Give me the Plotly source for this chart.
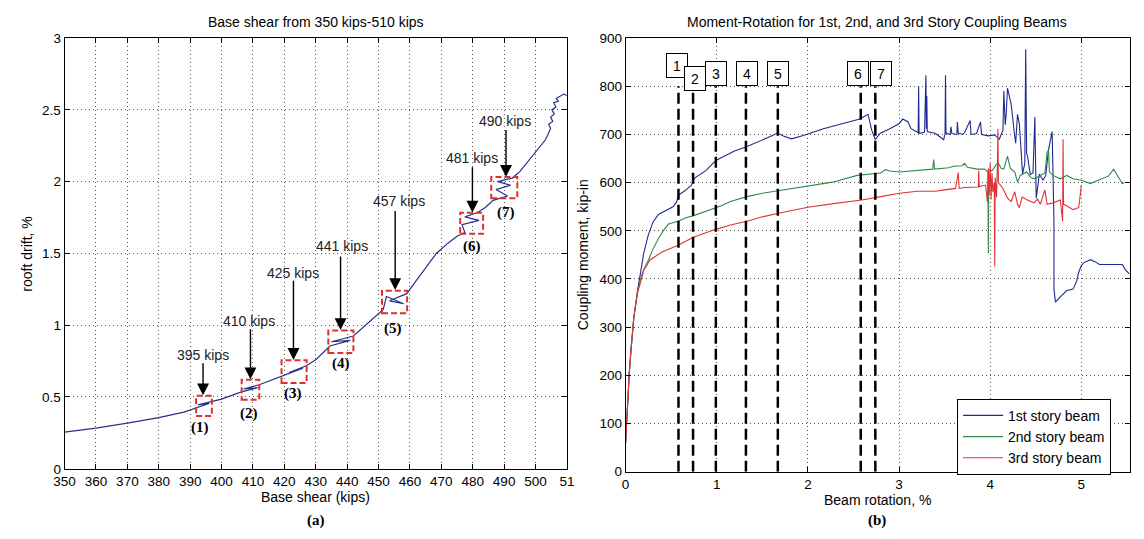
import plotly.graph_objects as go

# ---------------- Left panel data: roof drift vs base shear ----------------
shear = [350, 360, 370, 380, 388, 391.5, 396, 392.5, 397, 400, 405,
         406.7, 411.5, 407, 412, 415, 419.8, 425.9, 421.5, 427, 430,
         434.5, 441, 435, 442, 446, 451.5, 452.5, 458, 453.5, 459,
         462, 466, 468.4, 472, 475, 477.5, 476.6, 482, 477.5, 481.5,
         484, 486.5, 491.1, 487.4, 492.1, 488, 492.6, 495, 498, 500,
         502, 503.1, 504, 504.8, 504.2, 505.5, 504.8, 506, 505.2, 506.5,
         505.8, 507.2, 506.6, 508, 509, 510]
drift = [0.255, 0.283, 0.318, 0.356, 0.395, 0.42, 0.455, 0.445, 0.468, 0.485, 0.525,
         0.538, 0.565, 0.556, 0.585, 0.61, 0.653, 0.701, 0.671, 0.718, 0.76,
         0.855, 0.895, 0.885, 0.925, 1.0, 1.11, 1.2, 1.15, 1.17, 1.22,
         1.31, 1.43, 1.5, 1.57, 1.62, 1.645, 1.70, 1.73, 1.755, 1.785,
         1.82, 1.87, 1.90, 1.945, 1.975, 2.0, 2.025, 2.07, 2.15, 2.20,
         2.26, 2.29, 2.33, 2.37, 2.40, 2.42, 2.45, 2.47, 2.50, 2.52,
         2.55, 2.56, 2.58, 2.60, 2.61, 2.60]

box_shear0 = [391.9, 406.4, 419.1, 434.0, 451.1, 476.0, 485.9]
box_shear1 = [396.9, 412.0, 427.1, 442.0, 459.1, 483.3, 494.2]
box_drift0 = [0.368, 0.481, 0.598, 0.806, 1.084, 1.637, 1.885]
box_drift1 = [0.508, 0.621, 0.756, 0.964, 1.241, 1.783, 2.032]

kips_text = ["395 kips", "410 kips", "425 kips", "441 kips", "457 kips", "481 kips", "490 kips"]
kips_shear = [394.06, 408.63, 422.88, 438.22, 456.45, 479.82, 490.3]
kips_drift = [0.790, 1.027, 1.366, 1.551, 1.867, 2.167, 2.426]
arrow_shear = [394.1, 409.2, 422.9, 437.9, 455.3, 479.9, 490.6]
arrow_tail = [0.745, 0.982, 1.321, 1.490, 1.806, 2.111, 2.370]
arrow_tip = [0.512, 0.623, 0.758, 0.966, 1.245, 1.785, 2.034]

step_text = ["(1)", "(2)", "(3)", "(4)", "(5)", "(6)", "(7)"]
step_shear = [393.28, 408.88, 422.88, 437.9, 454.76, 479.9, 490.6]
step_drift = [0.289, 0.384, 0.523, 0.733, 0.975, 1.546, 1.783]

left_xticks = [350, 360, 370, 380, 390, 400, 410, 420, 430, 440, 450, 460, 470, 480, 490, 500, 510]
left_xtext = ["350", "360", "370", "380", "390", "400", "410", "420", "430", "440", "450",
              "460", "470", "480", "490", "500", "51"]
left_yticks = [0, 0.5, 1, 1.5, 2, 2.5, 3]
left_ytext = ["0", "0.5", "1", "1.5", "2", "2.5", "3"]

# ---------------- Right panel data: moment vs rotation ----------------
b1_rot = [0, 0.01, 0.02, 0.04, 0.06, 0.09, 0.13, 0.17, 0.2, 0.25, 0.3, 0.36, 0.45, 0.52,
          0.56, 0.58, 0.65, 0.72, 0.76, 0.88, 0.99, 1.1, 1.2, 1.32, 1.45, 1.58, 1.67,
          1.73, 1.82, 1.95, 2.17, 2.4, 2.57, 2.66, 2.70, 2.74, 2.79, 2.9, 3.0, 3.04,
          3.1, 3.13, 3.19, 3.21, 3.215, 3.22, 3.28, 3.295, 3.30, 3.305, 3.31, 3.40,
          3.49, 3.505, 3.51, 3.515, 3.56, 3.57, 3.58, 3.635, 3.64, 3.65, 3.70, 3.72,
          3.78, 3.79, 3.85, 3.895, 3.905, 3.98, 4.05, 4.10, 4.14, 4.15, 4.165, 4.176,
          4.19, 4.21, 4.23, 4.266, 4.28, 4.30, 4.32, 4.34, 4.355, 4.38, 4.39, 4.40,
          4.41, 4.44, 4.47, 4.49, 4.50, 4.505, 4.54, 4.58, 4.61, 4.64, 4.68, 4.69,
          4.70, 4.70, 4.706, 4.716, 4.77, 4.84, 4.91, 4.95, 4.97, 5.0, 5.03, 5.1,
          5.15, 5.2, 5.45, 5.48, 5.53]
b1_mom = [60, 100, 145, 205, 255, 320, 375, 420, 455, 492, 518, 534, 543, 550,
          560, 574, 583, 594, 610, 625, 646, 657, 666, 674, 684, 695, 703,
          697, 691, 698, 712, 724, 732, 742, 709, 689, 702, 712, 722, 732,
          726, 712, 706, 704, 800, 702, 705, 823, 712, 780, 706, 702,
          689, 702, 823, 703, 700, 716, 702, 700, 726, 703, 700, 704,
          729, 700, 702, 726, 700, 697, 699, 690, 709, 790, 720, 742,
          796, 776, 763, 702, 682, 742, 722, 665, 618, 640, 877, 660,
          655, 617, 620, 736, 595, 568, 618, 605, 615, 668, 706, 581,
          520, 380, 359, 352, 363, 376, 379, 396, 413, 428, 434, 440,
          436, 430, 430, 420, 410]

b2_rot = [0, 0.01, 0.02, 0.04, 0.06, 0.09, 0.13, 0.17, 0.2, 0.252, 0.3, 0.36, 0.42, 0.47,
          0.576, 0.66, 0.74, 0.85, 0.97, 1.05, 1.15, 1.33, 1.5, 1.69, 2.0, 2.27, 2.54,
          2.8, 2.85, 2.9, 3.0, 3.2, 3.37, 3.38, 3.39, 3.545, 3.6, 3.69, 3.72, 3.75,
          3.78, 3.86, 3.94, 3.975, 3.98, 3.985, 4.02, 4.05, 4.085, 4.12, 4.15, 4.19,
          4.22, 4.27, 4.30, 4.33, 4.40, 4.45, 4.49, 4.55, 4.60, 4.625, 4.64, 4.65,
          4.69, 4.77, 4.84, 4.91, 5.0, 5.1, 5.2, 5.256, 5.3, 5.355, 5.41, 5.45, 5.47]
b2_mom = [60, 100, 145, 205, 255, 320, 372, 405, 420, 440, 462, 484, 502, 514,
          520, 527, 531, 538, 546, 552, 561, 571, 578, 584, 593, 601, 615,
          620, 627, 624, 622, 626, 628, 648, 628, 631, 634, 635, 640, 632,
          631, 628, 628, 622, 453, 625, 625, 632, 642, 630, 628, 655,
          630, 622, 601, 615, 622, 610, 608, 615, 620, 662, 668, 622,
          615, 608, 615, 608, 605, 598, 606, 611, 614, 628, 611, 598, 600]

b3_rot = [0, 0.01, 0.02, 0.04, 0.06, 0.09, 0.13, 0.17, 0.2, 0.27, 0.4, 0.576, 0.738, 0.972,
          1.15, 1.332, 1.5, 1.69, 2.0, 2.3, 2.59, 2.8, 3.005, 3.2, 3.4, 3.5, 3.62,
          3.65, 3.66, 3.72, 3.87, 3.875, 3.88, 3.95, 3.97, 3.98, 3.99, 4.0, 4.01,
          4.02, 4.03, 4.045, 4.05, 4.055, 4.07, 4.08, 4.085, 4.09, 4.14, 4.19, 4.23,
          4.27, 4.30, 4.32, 4.35, 4.41, 4.48, 4.52, 4.55, 4.60, 4.625, 4.69, 4.77,
          4.795, 4.80, 4.805, 4.84, 4.91, 4.97, 4.98, 5.0]
b3_mom = [60, 100, 145, 205, 255, 320, 370, 400, 418, 440, 456, 470, 486, 502,
          512, 520, 529, 537, 549, 557, 564, 571, 578, 582, 582, 585, 588,
          621, 588, 590, 591, 625, 592, 595, 560, 630, 575, 640, 565,
          620, 580, 600, 426, 610, 570, 640, 712, 600, 588, 568, 561,
          581, 555, 548, 570, 564, 558, 566, 555, 585, 555, 558, 564,
          520, 690, 555, 552, 544, 548, 560, 595]

mark_rot = [0.58, 0.74, 0.99, 1.32, 1.67, 2.58, 2.74]
mark_top = [800, 800, 800, 800, 800, 800, 800]
mark_text = ["1", "2", "3", "4", "5", "6", "7"]
mark_label_rot = [0.56, 0.758, 0.995, 1.335, 1.67, 2.549, 2.80]
mark_label_mom = [843, 817, 827, 827, 827, 827, 827]

series_names = ["1st story beam", "2nd story beam", "3rd story beam"]
series_colors = ["#1f2a90", "#2e8b4a", "#e03434"]

FONT = "Liberation Sans, Arial, sans-serif"
SERIF = "Liberation Serif, Times New Roman, serif"
W, H = 1144, 539

fig = go.Figure()

fig.add_trace(go.Scatter(x=shear, y=drift, mode="lines", line=dict(color="#26328a", width=1.2),
                         xaxis="x", yaxis="y", showlegend=False))

for rx, ry, nm, col in [(b1_rot, b1_mom, series_names[0], series_colors[0]),
                        (b2_rot, b2_mom, series_names[1], series_colors[1]),
                        (b3_rot, b3_mom, series_names[2], series_colors[2])]:
    fig.add_trace(go.Scatter(x=rx, y=ry, mode="lines", name=nm,
                             line=dict(color=col, width=1.1), xaxis="x2", yaxis="y2"))

shapes = []
for i in range(len(box_shear0)):
    shapes.append(dict(type="rect", xref="x", yref="y",
                       x0=box_shear0[i], x1=box_shear1[i], y0=box_drift0[i], y1=box_drift1[i],
                       line=dict(color="#e0302c", width=2, dash="6px,3px")))
for i in range(len(mark_rot)):
    shapes.append(dict(type="line", xref="x2", yref="y2", x0=mark_rot[i], x1=mark_rot[i],
                       y0=0, y1=mark_top[i], line=dict(color="black", width=2.5, dash="11px,5px")))

ann = []
for i in range(len(kips_text)):
    ann.append(dict(xref="x", yref="y", x=kips_shear[i], y=kips_drift[i], text=kips_text[i],
                    xanchor="center", yanchor="middle",
                    showarrow=False, font=dict(family=FONT, size=14, color="#222")))
    ann.append(dict(xref="x", yref="y", x=arrow_shear[i], y=arrow_tip[i],
                    axref="x", ayref="y", ax=arrow_shear[i], ay=arrow_tail[i], text="",
                    showarrow=True, arrowhead=2, arrowsize=1.7, arrowwidth=1.4,
                    arrowcolor="black", standoff=0, startstandoff=0))
    ann.append(dict(xref="x", yref="y", x=step_shear[i], y=step_drift[i], text="<b>" + step_text[i] + "</b>",
                    xanchor="center", yanchor="middle",
                    showarrow=False, font=dict(family=SERIF, size=15, color="black")))
for i in range(len(mark_text)):
    ann.append(dict(xref="x2", yref="y2", x=mark_label_rot[i], y=mark_label_mom[i], text=mark_text[i],
                    xanchor="center", yanchor="middle",
                    showarrow=False, font=dict(family=FONT, size=14, color="black"),
                    bgcolor="white", bordercolor="black", borderwidth=1, borderpad=1,
                    width=18, height=21))

def px_x(p):
    return p / W

def px_y(p):
    return 1 - p / H

def paper_text(x, y, text, font, angle=0):
    return dict(xref="paper", yref="paper", x=px_x(x), y=px_y(y), text=text, textangle=angle,
                xanchor="center", yanchor="middle", showarrow=False, font=font)

f14 = dict(family=FONT, size=14, color="black")
fb = dict(family=SERIF, size=15, color="black")
ann += [
    paper_text(310, 15, "Base shear from 350 kips-510 kips", f14),
    paper_text(881, 15, "Moment-Rotation for 1st, 2nd, and 3rd Story Coupling Beams", f14),
    paper_text(310, 504, "Base shear (kips)", f14),
    paper_text(881, 507, "Beam rotation, %", f14),
    paper_text(310, 528, "<b>(a)</b>", fb),
    paper_text(881, 528, "<b>(b)</b>", fb),
    paper_text(16, 254, "rooft drift, %", f14, -90),
    paper_text(582, 255, "Coupling moment, kip-in", f14, -90),
]

axis_common = dict(showgrid=True, gridcolor="#555", gridwidth=1, griddash="1px,3px",
                   showline=True, mirror="ticks", linecolor="black", linewidth=1,
                   ticks="inside", ticklen=5, tickcolor="black", zeroline=False,
                   tickfont=dict(family=FONT, size=13.5, color="black"))

fig.update_layout(
    width=W, height=H, margin=dict(l=0, r=0, t=0, b=0),
    paper_bgcolor="white", plot_bgcolor="white",
    xaxis=dict(domain=[px_x(54.5), px_x(565.3)], range=[350, 510], tickvals=left_xticks,
               ticktext=left_xtext, anchor="y", **axis_common),
    yaxis=dict(domain=[px_y(475), px_y(32)], range=[0, 3], tickvals=left_yticks,
               ticktext=left_ytext, anchor="x", **axis_common),
    xaxis2=dict(domain=[px_x(625), px_x(1137.5)], range=[0, 5.53], tickvals=[0, 1, 2, 3, 4, 5],
                anchor="y2", **axis_common),
    yaxis2=dict(domain=[px_y(478), px_y(32)], range=[0, 900], dtick=100, anchor="x2", **axis_common),
    shapes=shapes,
    annotations=ann,
    legend=dict(x=px_x(962), y=px_y(403), xanchor="left", yanchor="top",
                bgcolor="white", bordercolor="black", borderwidth=1,
                font=dict(family=FONT, size=14, color="black"), itemwidth=40,
                tracegroupgap=0),
    showlegend=True,
)

fig.write_html("out.html", config={"displayModeBar": False})
